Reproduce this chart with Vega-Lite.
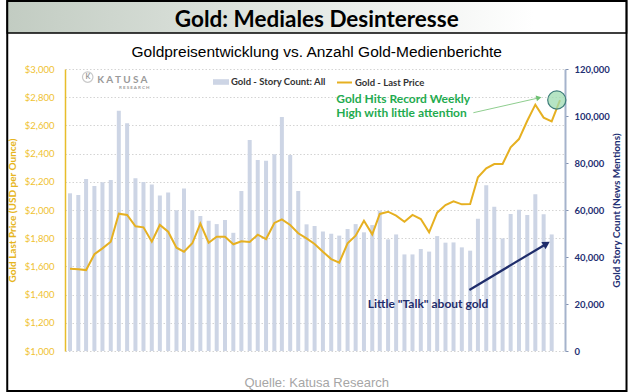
{
  "$schema": "https://vega.github.io/schema/vega-lite/v6.json",
  "width": 500,
  "height": 282,
  "autosize": {"type": "none"},
  "padding": {"left": 65, "top": 69, "right": 69, "bottom": 41},
  "background": "#ffffff",
  "config": {
    "font": "Lato",
    "view": {"stroke": null},
    "axis": {"labelFlush": false, "labelOverlap": false, "labelBound": false}
  },
  "datasets": {
    "main": [
      {"date": "2020-01-01", "count": 67100, "price": 1583},
      {"date": "2020-02-01", "count": 66400, "price": 1580},
      {"date": "2020-03-01", "count": 73200, "price": 1574},
      {"date": "2020-04-01", "count": 70200, "price": 1686},
      {"date": "2020-05-01", "count": 71800, "price": 1728},
      {"date": "2020-06-01", "count": 72800, "price": 1775},
      {"date": "2020-07-01", "count": 102200, "price": 1974},
      {"date": "2020-08-01", "count": 96900, "price": 1965},
      {"date": "2020-09-01", "count": 73500, "price": 1884},
      {"date": "2020-10-01", "count": 71900, "price": 1877},
      {"date": "2020-11-01", "count": 70900, "price": 1775},
      {"date": "2020-12-01", "count": 66200, "price": 1894},
      {"date": "2021-01-01", "count": 67500, "price": 1846},
      {"date": "2021-02-01", "count": 59900, "price": 1733},
      {"date": "2021-03-01", "count": 69100, "price": 1704},
      {"date": "2021-04-01", "count": 59900, "price": 1764},
      {"date": "2021-05-01", "count": 57400, "price": 1903},
      {"date": "2021-06-01", "count": 55400, "price": 1768},
      {"date": "2021-07-01", "count": 54000, "price": 1811},
      {"date": "2021-08-01", "count": 55700, "price": 1811},
      {"date": "2021-09-01", "count": 50300, "price": 1757},
      {"date": "2021-10-01", "count": 68100, "price": 1778},
      {"date": "2021-11-01", "count": 89800, "price": 1773},
      {"date": "2021-12-01", "count": 81300, "price": 1825},
      {"date": "2022-01-01", "count": 81000, "price": 1794},
      {"date": "2022-02-01", "count": 83700, "price": 1908},
      {"date": "2022-03-01", "count": 99600, "price": 1934},
      {"date": "2022-04-01", "count": 83400, "price": 1894},
      {"date": "2022-05-01", "count": 68100, "price": 1835},
      {"date": "2022-06-01", "count": 53900, "price": 1799},
      {"date": "2022-07-01", "count": 53200, "price": 1759},
      {"date": "2022-08-01", "count": 50900, "price": 1704},
      {"date": "2022-09-01", "count": 49900, "price": 1652},
      {"date": "2022-10-01", "count": 49100, "price": 1627},
      {"date": "2022-11-01", "count": 51900, "price": 1764},
      {"date": "2022-12-01", "count": 54000, "price": 1818},
      {"date": "2023-01-01", "count": 50500, "price": 1924},
      {"date": "2023-02-01", "count": 53600, "price": 1827},
      {"date": "2023-03-01", "count": 59700, "price": 1972},
      {"date": "2023-04-01", "count": 47500, "price": 1988},
      {"date": "2023-05-01", "count": 49600, "price": 1960},
      {"date": "2023-06-01", "count": 41100, "price": 1917},
      {"date": "2023-07-01", "count": 41100, "price": 1965},
      {"date": "2023-08-01", "count": 43400, "price": 1936},
      {"date": "2023-09-01", "count": 42300, "price": 1842},
      {"date": "2023-10-01", "count": 48900, "price": 1981},
      {"date": "2023-11-01", "count": 46100, "price": 2035},
      {"date": "2023-12-01", "count": 46200, "price": 2062},
      {"date": "2024-01-01", "count": 44100, "price": 2040},
      {"date": "2024-02-01", "count": 42700, "price": 2043},
      {"date": "2024-03-01", "count": 56300, "price": 2232},
      {"date": "2024-04-01", "count": 70500, "price": 2296},
      {"date": "2024-05-01", "count": 61400, "price": 2326},
      {"date": "2024-06-01", "count": 47900, "price": 2326},
      {"date": "2024-07-01", "count": 58300, "price": 2444},
      {"date": "2024-08-01", "count": 60100, "price": 2503},
      {"date": "2024-09-01", "count": 57900, "price": 2633},
      {"date": "2024-10-01", "count": 66700, "price": 2747},
      {"date": "2024-11-01", "count": 58200, "price": 2655},
      {"date": "2024-12-01", "count": 49600, "price": 2628},
      {"date": "2025-01-01", "count": null, "price": 2780}
    ]
  },
  "layer": [
    {
      "data": {"name": "main"},
      "mark": {"type": "bar", "size": 4, "clip": false},
      "encoding": {
        "x": {
          "field": "date", "type": "temporal",
          "scale": {"type": "utc", "domain": [{"year": 2020, "month": 1, "date": 1, "utc": true}, {"year": 2025, "month": 1, "date": 1, "utc": true}]},
          "axis": {
            "values": [
              {"year": 2020, "month": 1, "date": 1, "utc": true},
              {"year": 2021, "month": 1, "date": 1, "utc": true},
              {"year": 2022, "month": 1, "date": 1, "utc": true},
              {"year": 2023, "month": 1, "date": 1, "utc": true},
              {"year": 2024, "month": 1, "date": 1, "utc": true},
              {"year": 2025, "month": 1, "date": 1, "utc": true}
            ],
            "format": "%b-%y", "title": null,
            "labelFont": "Lato", "labelFontWeight": "bold", "labelFontSize": 10, "labelColor": "#1a1a1a",
            "labelPadding": 4, "tickSize": 3, "tickColor": "#bfbfbf", "domainColor": "#bfbfbf", "domainWidth": 1,
            "grid": false, "labelFlush": false
          }
        },
        "y": {
          "field": "count", "type": "quantitative",
          "scale": {"domain": [0, 120000], "nice": false, "zero": true},
          "axis": {
            "orient": "right", "values": [0, 20000, 40000, 60000, 80000, 100000, 120000], "format": ",.0f",
            "title": "Gold Story Count (News Mentions)", "titleAngle": 270, "titleColor": "#1f3073", "titleFont": "Lato",
            "titleFontSize": 10, "titleFontWeight": "bold", "titlePadding": 12,
            "labelFont": "Lato", "labelFontWeight": "bold", "labelFontSize": 9.5, "labelColor": "#1f3073",
            "labelPadding": 6, "tickSize": 3, "tickColor": "#8090b0", "domainColor": "#a5b3cc", "domainWidth": 2, "grid": false
          }
        },
        "fill": {
          "datum": "Gold - Story Count: All",
          "scale": {"range": ["#cdd5e5"]},
          "legend": {
            "title": null, "orient": "none", "legendX": 148, "legendY": 5, "direction": "horizontal",
            "symbolType": "M-1,-0.35H1V0.35H-1Z", "symbolSize": 256, "symbolStrokeWidth": 0,
            "labelFont": "Lato", "labelFontWeight": "bold", "labelFontSize": 9.5, "labelColor": "#333333", "labelOffset": 2, "padding": 0
          }
        }
      }
    },
    {
      "data": {"values": [{"date": "2019-05-12", "date2": "2025-09-06", "price": 3482, "price2": 3255}]},
      "mark": {"type": "rect", "clip": false, "stroke": "#000000", "strokeWidth": 1.5,
        "fill": {"gradient": "linear", "x1": 0, "y1": 0, "x2": 1, "y2": 0, "stops": [{"offset": 0, "color": "#c2ccc2"}, {"offset": 0.85, "color": "#ffffff"}]}},
      "encoding": {
        "x": {"field": "date", "type": "temporal", "scale": {"type": "utc", "domain": [{"year": 2020, "month": 1, "date": 1, "utc": true}, {"year": 2025, "month": 1, "date": 1, "utc": true}]}, "axis": null},
        "x2": {"field": "date2"},
        "y": {"field": "price", "type": "quantitative", "scale": {"domain": [1000, 3000], "nice": false, "zero": false}, "axis": null},
        "y2": {"field": "price2"}
      }
    },
    {
      "data": {"values": [
        {"date": "2022-07-09", "price": 3350, "label": "Gold: Mediales Desinteresse"}
      ]},
      "mark": {"type": "text", "align": "center", "baseline": "middle", "font": "Lato", "fontWeight": "bold", "fontSize": 22.5, "color": "#000000", "clip": false},
      "encoding": {
        "x": {"field": "date", "type": "temporal", "scale": {"type": "utc", "domain": [{"year": 2020, "month": 1, "date": 1, "utc": true}, {"year": 2025, "month": 1, "date": 1, "utc": true}]}, "axis": null},
        "y": {"field": "price", "type": "quantitative", "scale": {"domain": [1000, 3000], "nice": false, "zero": false}, "axis": null},
        "text": {"field": "label"}
      }
    },
    {
      "data": {"values": [
        {"date": "2022-07-09", "price": 3123, "label": "Goldpreisentwicklung vs. Anzahl Gold-Medienberichte"}
      ]},
      "mark": {"type": "text", "align": "center", "baseline": "middle", "font": "Liberation Sans", "fontSize": 15.5, "color": "#000000", "clip": false},
      "encoding": {
        "x": {"field": "date", "type": "temporal", "scale": {"type": "utc", "domain": [{"year": 2020, "month": 1, "date": 1, "utc": true}, {"year": 2025, "month": 1, "date": 1, "utc": true}]}, "axis": null},
        "y": {"field": "price", "type": "quantitative", "scale": {"domain": [1000, 3000], "nice": false, "zero": false}, "axis": null},
        "text": {"field": "label"}
      }
    },
    {
      "data": {"values": [
        {"date": "2022-07-09", "price": 773, "label": "Quelle: Katusa Research"}
      ]},
      "mark": {"type": "text", "align": "center", "baseline": "middle", "font": "Liberation Sans", "fontSize": 13, "color": "#a6a6a6", "clip": false},
      "encoding": {
        "x": {"field": "date", "type": "temporal", "scale": {"type": "utc", "domain": [{"year": 2020, "month": 1, "date": 1, "utc": true}, {"year": 2025, "month": 1, "date": 1, "utc": true}]}, "axis": null},
        "y": {"field": "price", "type": "quantitative", "scale": {"domain": [1000, 3000], "nice": false, "zero": false}, "axis": null},
        "text": {"field": "label"}
      }
    },
    {
      "data": {"values": [{"date": "2020-03-07", "price": 2943}]},
      "mark": {"type": "point", "shape": "circle", "size": 110, "filled": false, "color": "#b3b3b3", "strokeWidth": 1.2},
      "encoding": {
        "x": {"field": "date", "type": "temporal", "scale": {"type": "utc", "domain": [{"year": 2020, "month": 1, "date": 1, "utc": true}, {"year": 2025, "month": 1, "date": 1, "utc": true}]}, "axis": null},
        "y": {"field": "price", "type": "quantitative", "scale": {"domain": [1000, 3000], "nice": false, "zero": false}, "axis": null}
      }
    },
    {
      "data": {"values": [
        {"date": "2020-02-28", "price": 2943, "label": "K", "size": 7},
        {"date": "2020-04-12", "price": 2922, "label": "K A T U S A", "size": 10},
        {"date": "2020-07-02", "price": 2865, "label": "R E S E A R C H", "size": 4.5}
      ]},
      "mark": {"type": "text", "align": "left", "baseline": "middle", "font": "Lato", "fontWeight": "bold", "color": "#9a9a9a"},
      "encoding": {
        "x": {"field": "date", "type": "temporal", "scale": {"type": "utc", "domain": [{"year": 2020, "month": 1, "date": 1, "utc": true}, {"year": 2025, "month": 1, "date": 1, "utc": true}]}, "axis": null},
        "y": {"field": "price", "type": "quantitative", "scale": {"domain": [1000, 3000], "nice": false, "zero": false}, "axis": null},
        "text": {"field": "label"},
        "size": {"field": "size", "type": "quantitative", "scale": null, "legend": null}
      }
    },
    {
      "data": {"name": "main"},
      "mark": {"type": "line", "strokeWidth": 2},
      "encoding": {
        "x": {"field": "date", "type": "temporal", "scale": {"type": "utc", "domain": [{"year": 2020, "month": 1, "date": 1, "utc": true}, {"year": 2025, "month": 1, "date": 1, "utc": true}]}, "axis": null},
        "y": {
          "field": "price", "type": "quantitative",
          "scale": {"domain": [1000, 3000], "nice": false, "zero": false},
          "axis": {
            "orient": "left", "values": [1000, 1200, 1400, 1600, 1800, 2000, 2200, 2400, 2600, 2800, 3000], "format": "$,.0f",
            "title": "Gold Last Price (USD per Ounce)", "titleColor": "#e6b520", "titleFont": "Lato", "titleFontSize": 10,
            "titleFontWeight": "bold", "titlePadding": 7,
            "labelFont": "Lato", "labelFontSize": 9.5, "labelColor": "#efc231", "labelPadding": 11, "ticks": false,
            "domainColor": "#e8bd2a", "domainWidth": 1.5,
            "grid": true, "gridColor": "#d4d4d4", "gridDash": [1.5, 2], "gridWidth": 1
          }
        },
        "stroke": {
          "datum": "Gold - Last Price",
          "scale": {"range": ["#e6b021"]},
          "legend": {
            "title": null, "orient": "none", "legendX": 271, "legendY": 5, "direction": "horizontal",
            "symbolType": "stroke", "symbolSize": 225, "symbolStrokeWidth": 2,
            "labelFont": "Lato", "labelFontWeight": "bold", "labelFontSize": 9.5, "labelColor": "#333333", "labelOffset": 2, "padding": 0
          }
        }
      }
    },
    {
      "data": {"values": [{"date": "2024-02-13", "price": 2690, "date2": "2024-10-14", "price2": 2795}]},
      "mark": {"type": "rule", "color": "#8fce8f", "strokeWidth": 1},
      "encoding": {
        "x": {"field": "date", "type": "temporal", "scale": {"type": "utc", "domain": [{"year": 2020, "month": 1, "date": 1, "utc": true}, {"year": 2025, "month": 1, "date": 1, "utc": true}]}, "axis": null},
        "x2": {"field": "date2"},
        "y": {"field": "price", "type": "quantitative", "scale": {"domain": [1000, 3000], "nice": false, "zero": false}, "axis": null},
        "y2": {"field": "price2"}
      }
    },
    {
      "data": {"values": [{"date": "2024-10-14", "price": 2795}]},
      "mark": {"type": "point", "shape": "triangle-right", "filled": true, "color": "#6cc070", "size": 35, "angle": 347.5, "opacity": 1},
      "encoding": {
        "x": {"field": "date", "type": "temporal", "scale": {"type": "utc", "domain": [{"year": 2020, "month": 1, "date": 1, "utc": true}, {"year": 2025, "month": 1, "date": 1, "utc": true}]}, "axis": null},
        "y": {"field": "price", "type": "quantitative", "scale": {"domain": [1000, 3000], "nice": false, "zero": false}, "axis": null}
      }
    },
    {
      "data": {"values": [{"date": "2024-01-29", "price": 1433, "date2": "2024-11-12", "price2": 1761}]},
      "mark": {"type": "rule", "color": "#1f2d6b", "strokeWidth": 2.2},
      "encoding": {
        "x": {"field": "date", "type": "temporal", "scale": {"type": "utc", "domain": [{"year": 2020, "month": 1, "date": 1, "utc": true}, {"year": 2025, "month": 1, "date": 1, "utc": true}]}, "axis": null},
        "x2": {"field": "date2"},
        "y": {"field": "price", "type": "quantitative", "scale": {"domain": [1000, 3000], "nice": false, "zero": false}, "axis": null},
        "y2": {"field": "price2"}
      }
    },
    {
      "data": {"values": [{"date": "2024-11-12", "price": 1761}]},
      "mark": {"type": "point", "shape": "triangle-right", "filled": true, "color": "#1f2d6b", "size": 70, "angle": 329.6, "opacity": 1},
      "encoding": {
        "x": {"field": "date", "type": "temporal", "scale": {"type": "utc", "domain": [{"year": 2020, "month": 1, "date": 1, "utc": true}, {"year": 2025, "month": 1, "date": 1, "utc": true}]}, "axis": null},
        "y": {"field": "price", "type": "quantitative", "scale": {"domain": [1000, 3000], "nice": false, "zero": false}, "axis": null}
      }
    },
    {
      "data": {"values": [{"date": "2024-12-20", "price": 2780}]},
      "mark": {"type": "point", "shape": "circle", "size": 330, "filled": true, "fill": "#9edbb0", "fillOpacity": 0.75, "stroke": "#3e7d7a", "strokeWidth": 1.2, "strokeOpacity": 1},
      "encoding": {
        "x": {"field": "date", "type": "temporal", "scale": {"type": "utc", "domain": [{"year": 2020, "month": 1, "date": 1, "utc": true}, {"year": 2025, "month": 1, "date": 1, "utc": true}]}, "axis": null},
        "y": {"field": "price", "type": "quantitative", "scale": {"domain": [1000, 3000], "nice": false, "zero": false}, "axis": null}
      }
    },
    {
      "data": {"values": [
        {"date": "2022-09-20", "price": 2785, "label": "Gold Hits Record Weekly"},
        {"date": "2022-09-20", "price": 2686, "label": "High with little attention"}
      ]},
      "mark": {"type": "text", "align": "left", "baseline": "middle", "font": "Lato", "fontWeight": "bold", "fontSize": 12, "color": "#1fab4f"},
      "encoding": {
        "x": {"field": "date", "type": "temporal", "scale": {"type": "utc", "domain": [{"year": 2020, "month": 1, "date": 1, "utc": true}, {"year": 2025, "month": 1, "date": 1, "utc": true}]}, "axis": null},
        "y": {"field": "price", "type": "quantitative", "scale": {"domain": [1000, 3000], "nice": false, "zero": false}, "axis": null},
        "text": {"field": "label"}
      }
    },
    {
      "data": {"values": [
        {"date": "2023-08-28", "price": 1331, "label": "Little \"Talk\" about gold"}
      ]},
      "mark": {"type": "text", "align": "center", "baseline": "middle", "font": "Lato", "fontWeight": "bold", "fontSize": 12, "color": "#1f2d6b"},
      "encoding": {
        "x": {"field": "date", "type": "temporal", "scale": {"type": "utc", "domain": [{"year": 2020, "month": 1, "date": 1, "utc": true}, {"year": 2025, "month": 1, "date": 1, "utc": true}]}, "axis": null},
        "y": {"field": "price", "type": "quantitative", "scale": {"domain": [1000, 3000], "nice": false, "zero": false}, "axis": null},
        "text": {"field": "label"}
      }
    },
    {
      "data": {"values": [{"date": "2019-05-12", "date2": "2025-09-06", "price": 3482, "price2": 716}]},
      "mark": {"type": "rect", "clip": false, "filled": false, "color": "#000000", "strokeWidth": 2},
      "encoding": {
        "x": {"field": "date", "type": "temporal", "scale": {"type": "utc", "domain": [{"year": 2020, "month": 1, "date": 1, "utc": true}, {"year": 2025, "month": 1, "date": 1, "utc": true}]}, "axis": null},
        "x2": {"field": "date2"},
        "y": {"field": "price", "type": "quantitative", "scale": {"domain": [1000, 3000], "nice": false, "zero": false}, "axis": null},
        "y2": {"field": "price2"}
      }
    }
  ],
  "resolve": {"scale": {"y": "independent"}}
}
